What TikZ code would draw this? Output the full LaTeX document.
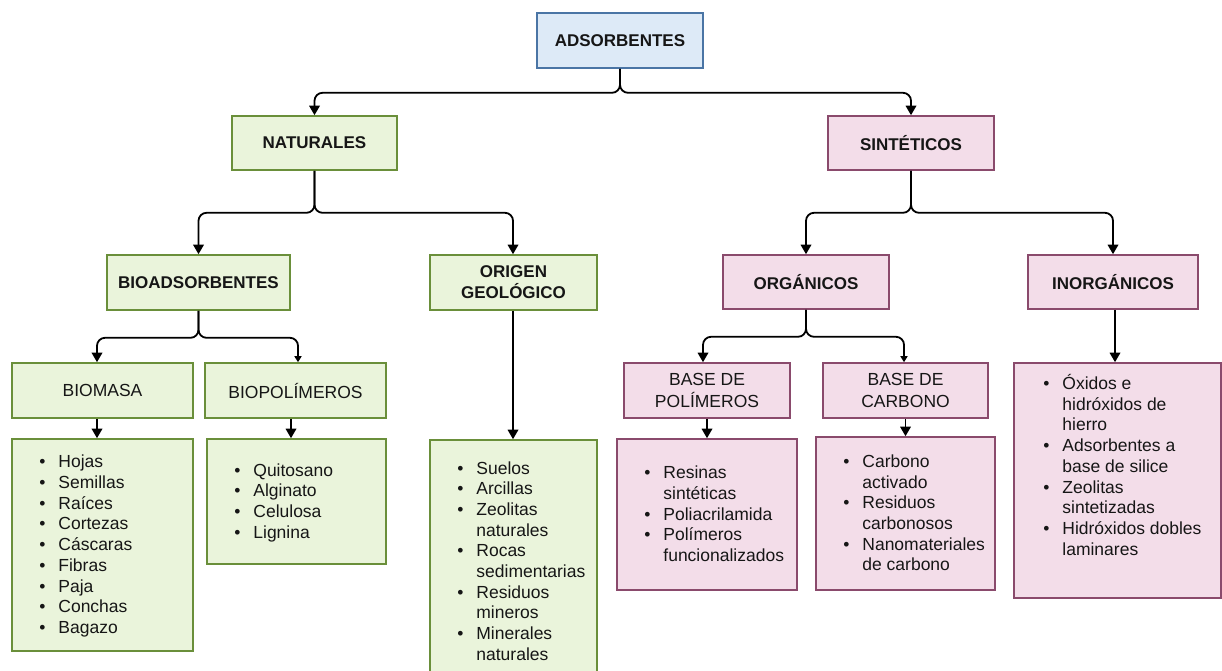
\documentclass[tikz,border=0pt]{standalone}
\usepackage{fontspec}
\setmainfont{Liberation Sans}
\usetikzlibrary{arrows.meta}

\definecolor{txt}{HTML}{161616}
\definecolor{bluefill}{HTML}{DDEAF7}
\definecolor{blueline}{HTML}{4A75A5}
\definecolor{greenfill}{HTML}{EAF4DB}
\definecolor{greenline}{HTML}{6A8F3A}
\definecolor{pinkfill}{HTML}{F3DDE9}
\definecolor{pinkline}{HTML}{8A4A6C}

% one bullet line and one continuation line of a list
\newcommand{\itm}[1]{\makebox[19pt][l]{\textbullet}#1\strut}
\newcommand{\cnt}[1]{\hspace*{19pt}#1\strut}

\tikzset{
  box/.style={draw, line width=1.6pt, inner sep=0pt, align=center, text=txt},
  bluebox/.style={box, draw=blueline, fill=bluefill},
  greenbox/.style={box, draw=greenline, fill=greenfill},
  pinkbox/.style={box, draw=pinkline, fill=pinkfill},
  head/.style={font=\fontsize{17}{21}\selectfont\bfseries},
  sub/.style={font=\fontsize{17.5}{22}\selectfont},
  items/.style={inner sep=0pt, align=left, text=txt, font=\fontsize{17.5}{20.7}\selectfont},
  conn/.style={line width=1.8pt, rounded corners=8pt, -{Triangle[length=9.5pt,width=10.5pt]}},
  connsm/.style={conn, -{Triangle[length=6pt,width=7pt]}},
}

\begin{document}
\begin{tikzpicture}[x=1pt, y=-1pt]
  \fill[white] (0,0) rectangle (1222,670);
  \useasboundingbox (0,0) rectangle (1222,670);

  % top and second level
  \node[bluebox, head, minimum width=166pt, minimum height=55pt] (adsorb) at (620,40.5) {ADSORBENTES};
  \node[greenbox, head, minimum width=165pt, minimum height=54pt] (naturales) at (314.5,143) {NATURALES};
  \node[pinkbox, head, minimum width=166pt, minimum height=54pt] (sinteticos) at (911,143) {SINTÉTICOS};

  % third level
  \node[greenbox, head, minimum width=183pt, minimum height=55pt] (bioads) at (198.5,282.5) {BIOADSORBENTES};
  \node[greenbox, head, minimum width=167pt, minimum height=55pt] (origen) at (513.5,282.5) {ORIGEN\\GEOLÓGICO};
  \node[pinkbox, head, minimum width=166pt, minimum height=54pt] (organicos) at (806,282) {ORGÁNICOS};
  \node[pinkbox, head, minimum width=170pt, minimum height=54pt] (inorganicos) at (1113,282) {INORGÁNICOS};

  % fourth level
  \node[greenbox, sub, minimum width=181pt, minimum height=55pt] (biomasa) at (102.5,390.5) {BIOMASA};
  \node[greenbox, sub, minimum width=181pt, minimum height=55pt] (biopol) at (295.5,390.5) {BIOPOLÍMEROS};
  \node[pinkbox, sub, minimum width=166pt, minimum height=55pt] (basepol) at (707,390.5) {BASE DE\\POLÍMEROS};
  \node[pinkbox, sub, minimum width=165pt, minimum height=55pt] (basecarb) at (905.5,390.5) {BASE DE\\CARBONO};

  % list boxes
  \node[greenbox, minimum width=181pt, minimum height=212pt] (lbiomasa) at (102.5,545) {};
  \node[greenbox, minimum width=179pt, minimum height=125pt] (lbiopol) at (296.5,501.5) {};
  \node[greenbox, minimum width=167pt, minimum height=243pt] (lorigen) at (513.5,561.5) {};
  \node[pinkbox, minimum width=180pt, minimum height=151pt] (lpol) at (707,514.5) {};
  \node[pinkbox, minimum width=179pt, minimum height=153pt] (lcarb) at (905.5,513.5) {};
  \node[pinkbox, minimum width=207pt, minimum height=235pt] (linorg) at (1117.5,480.5) {};

  % list contents
  \node[items, anchor=west] (tbiomasa) at ([xshift=28pt,yshift=-1.5pt]lbiomasa.west)
    {\itm{Hojas}\\\itm{Semillas}\\\itm{Raíces}\\\itm{Cortezas}\\\itm{Cáscaras}\\\itm{Fibras}\\\itm{Paja}\\\itm{Conchas}\\\itm{Bagazo}};
  \node[items, anchor=west] (tbiopol) at ([xshift=28pt,yshift=-1.5pt]lbiopol.west)
    {\itm{Quitosano}\\\itm{Alginato}\\\itm{Celulosa}\\\itm{Lignina}};
  \node[items, anchor=west] (torigen) at ([xshift=28pt,yshift=-1.5pt]lorigen.west)
    {\itm{Suelos}\\\itm{Arcillas}\\\itm{Zeolitas}\\\cnt{naturales}\\\itm{Rocas}\\\cnt{sedimentarias}\\\itm{Residuos}\\\cnt{mineros}\\\itm{Minerales}\\\cnt{naturales}};
  \node[items, anchor=west] (tpol) at ([xshift=28pt,yshift=-1.5pt]lpol.west)
    {\itm{Resinas}\\\cnt{sintéticas}\\\itm{Poliacrilamida}\\\itm{Polímeros}\\\cnt{funcionalizados}};
  \node[items, anchor=west] (tcarb) at ([xshift=28pt,yshift=-1.5pt]lcarb.west)
    {\itm{Carbono}\\\cnt{activado}\\\itm{Residuos}\\\cnt{carbonosos}\\\itm{Nanomateriales}\\\cnt{de carbono}};
  \node[items, anchor=north west] (tinorg) at ([xshift=30pt,yshift=-12pt]linorg.north west)
    {\itm{Óxidos e}\\\cnt{hidróxidos de}\\\cnt{hierro}\\\itm{Adsorbentes a}\\\cnt{base de silice}\\\itm{Zeolitas}\\\cnt{sintetizadas}\\\itm{Hidróxidos dobles}\\\cnt{laminares}};

  % branching connectors
  \draw[conn] (adsorb.south) -- ++(0,24) -| (naturales.north);
  \draw[conn] (adsorb.south) -- ++(0,24) -| (sinteticos.north);
  \draw[conn] (naturales.south) -- ++(0,42) -| (bioads.north);
  \draw[conn] (naturales.south) -- ++(0,42) -| ([xshift=-0.5pt]origen.north);
  \draw[conn] (sinteticos.south) -- ++(0,42) -| (organicos.north);
  \draw[conn] (sinteticos.south) -- ++(0,42) -| (inorganicos.north);
  \draw[conn] (bioads.south) -- ++(0,27) -| ([xshift=-5.5pt]biomasa.north);
  \draw[connsm] (bioads.south) -- ++(0,27) -| ([xshift=2.5pt]biopol.north);
  \draw[conn] (organicos.south) -- ++(0,27) -| ([xshift=-4pt]basepol.north);
  \draw[connsm] (organicos.south) -- ++(0,27) -| ([xshift=-1.5pt]basecarb.north);

  % straight connectors to the lists
  \draw[conn] ([xshift=-5.5pt]biomasa.south) -- ([xshift=-5.5pt]biomasa.south |- lbiomasa.north);
  \draw[conn] ([xshift=-4.5pt]biopol.south) -- ([xshift=-4.5pt]biopol.south |- lbiopol.north);
  \draw[conn] ([xshift=-0.5pt]origen.south) -- ([xshift=-0.5pt]origen.south |- lorigen.north);
  \draw[conn] (basepol.south) -- (basepol.south |- lpol.north);
  \draw[conn] (basecarb.south) -- (basecarb.south |- lcarb.north);
  \draw[conn] ([xshift=2pt]inorganicos.south) -- ([xshift=2pt]inorganicos.south |- linorg.north);
\end{tikzpicture}
\end{document}
